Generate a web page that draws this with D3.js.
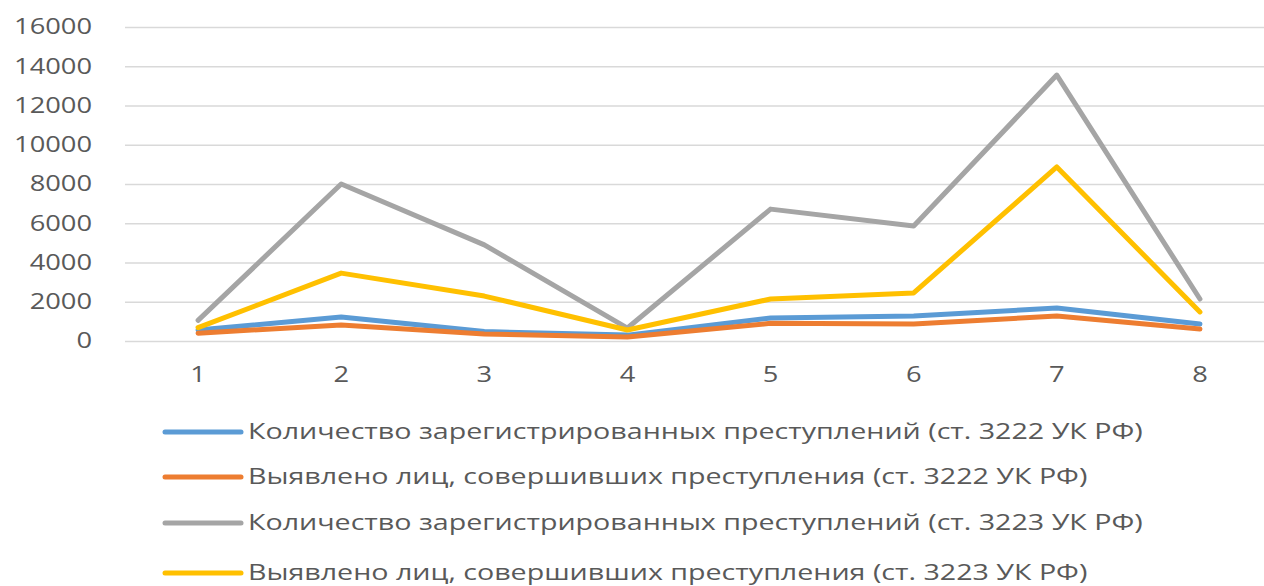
<!DOCTYPE html>
<html>
<head>
<meta charset="utf-8">
<script src="https://cdn.jsdelivr.net/npm/d3@7"></script>
<style>
  html, body { margin: 0; padding: 0; background: #fff; }
  svg { display: block; }
</style>
</head>
<body>
<svg id="chart" width="1264" height="586"></svg>
<script>
// ---- data ----
const categories = ["1", "2", "3", "4", "5", "6", "7", "8"];
const seriesNames = [
  "Количество зарегистрированных преступлений (ст. 3222 УК РФ)",
  "Выявлено лиц, совершивших преступления (ст. 3222 УК РФ)",
  "Количество зарегистрированных преступлений (ст. 3223 УК РФ)",
  "Выявлено лиц, совершивших преступления (ст. 3223 УК РФ)"
];
const registered3222 = [560, 1220, 480, 300, 1170, 1270, 1680, 870];
const detected3222   = [400, 815, 360, 200, 900, 870, 1270, 610];
const registered3223 = [1050, 8000, 4900, 660, 6720, 5860, 13550, 2140];
const detected3223   = [680, 3460, 2290, 560, 2140, 2450, 8870, 1480];
const yTicks = [0, 2000, 4000, 6000, 8000, 10000, 12000, 14000, 16000];
const seriesColors = ["#5B9BD5", "#ED7D31", "#A5A5A5", "#FFC000"];

const seriesValues = [registered3222, detected3222, registered3223, detected3223];

// ---- layout ----
const svg = d3.select("#chart");
const plot = { left: 126.5, right: 1271.5, top: 27, bottom: 341 };
const font = "'Open Sans', sans-serif";
const textColor = "#595959";

const x = d3.scaleBand().domain(categories).range([plot.left, plot.right]).padding(0);
const y = d3.scaleLinear().domain([0, 16000]).range([plot.bottom, plot.top]);

// gridlines
const grid = svg.append("g")
  .attr("transform", `translate(${plot.left - 1.5},0)`)
  .call(d3.axisLeft(y).tickValues(yTicks).tickSize(-(plot.right - plot.left + 1.5)).tickFormat(""));
grid.select(".domain").remove();
grid.selectAll("line").attr("stroke", "#d9d9d9").attr("stroke-width", 1.6);

// y axis labels
const yAxis = svg.append("g")
  .attr("transform", `translate(92,0)`)
  .call(d3.axisLeft(y).tickValues(yTicks).tickSize(0).tickPadding(0).tickFormat(d3.format("d")));
yAxis.select(".domain").remove();
yAxis.selectAll("text")
  .attr("x", 0).attr("dy", "0.33em")
  .attr("font-family", font).attr("font-size", 21).attr("fill", textColor);

// x axis labels
const xAxis = svg.append("g")
  .attr("transform", `translate(0,${plot.bottom})`)
  .call(d3.axisBottom(x).tickSize(0).tickPadding(0));
xAxis.select(".domain").remove();
xAxis.selectAll("text")
  .attr("y", 41).attr("dy", 0)
  .attr("font-family", font).attr("font-size", 21).attr("fill", textColor);

// horizontal stretch of tick labels to match reference
(function () {
  const t = yAxis.selectAll("text").filter(d => d === 16000).node();
  const w = t.getComputedTextLength();
  const sx = 78 / w;
  yAxis.selectAll("text").attr("transform", `scale(${sx},1)`);
  xAxis.selectAll("text").attr("transform", `scale(${sx},1)`);
})();

// lines
const line = d3.line()
  .x((d, i) => x(categories[i]) + x.bandwidth() / 2)
  .y(d => y(d));

svg.append("g").selectAll("path")
  .data(seriesValues)
  .join("path")
  .attr("d", d => line(d))
  .attr("fill", "none")
  .attr("stroke", (d, i) => seriesColors[i])
  .attr("stroke-width", 5)
  .attr("stroke-linejoin", "round")
  .attr("stroke-linecap", "round");

// legend
const legendRowsY = [432, 477, 523, 573];
const legend = svg.append("g");
const rows = legend.selectAll("g")
  .data(seriesNames)
  .join("g")
  .attr("transform", (d, i) => `translate(165,${legendRowsY[i]})`);
rows.append("line")
  .attr("x1", 0).attr("x2", 76).attr("y1", 0).attr("y2", 0)
  .attr("stroke", (d, i) => seriesColors[i])
  .attr("stroke-width", 5)
  .attr("stroke-linecap", "round");
const ltext = rows.append("text")
  .attr("x", 0).attr("y", 0).attr("dy", "0.35em")
  .attr("font-family", font).attr("font-size", 21).attr("fill", textColor)
  .text(d => d);
(function () {
  const w = ltext.nodes()[0].getComputedTextLength();
  const sx = 895 / w;
  ltext.attr("transform", `translate(83,0) scale(${sx},1)`);
})();
</script>
</body>
</html>
